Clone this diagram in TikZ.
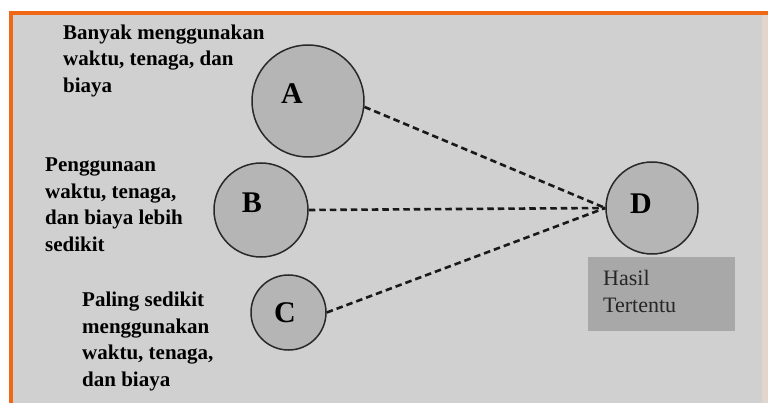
\documentclass[tikz,border=0pt]{standalone}
\usepackage{fontspec}
\setmainfont{Liberation Serif}
\newfontfamily\notefont{Liberation Serif}
\definecolor{frameorange}{RGB}{240,104,22}
\definecolor{panelgray}{RGB}{208,208,208}
\definecolor{ballgray}{RGB}{181,181,181}
\definecolor{boxgray}{RGB}{168,168,168}
\definecolor{edgebeige}{RGB}{226,214,204}
\definecolor{inkdark}{RGB}{40,40,40}
\tikzset{
  ball/.style={circle, draw=inkdark, line width=1.5pt, fill=ballgray, inner sep=0pt},
  balltext/.style={inner sep=0pt, font=\notefont\fontsize{30}{30}\selectfont\bfseries, text=black},
  note/.style={anchor=north west, inner sep=0pt, align=left, text=black,
    font=\notefont\fontsize{21}{26.5}\selectfont\bfseries},
  resultnote/.style={anchor=north west, inner sep=0pt, align=left, text=black!85,
    font=\notefont\fontsize{22}{27}\selectfont},
  link/.style={draw=black!90, line width=2.6pt, dash pattern=on 6.5pt off 4pt},
}
\begin{document}
\begin{tikzpicture}[x=1pt, y=-1pt]
  \useasboundingbox (0,0) rectangle (768,403);
  % frame and panel
  \fill[white] (0,0) rectangle (768,403);
  \fill[panelgray] (13,15) rectangle (762,403);
  \fill[edgebeige] (762,15) rectangle (768,403);
  \fill[frameorange] (9,11) rectangle (768,15);
  \fill[frameorange] (9,11) rectangle (13,403);

  % circles
  \node[ball, minimum size=112pt] (A) at (308,101) {};
  \node[ball, minimum size=94pt]  (B) at (261,210) {};
  \node[ball, minimum size=75pt]  (C) at (288.5,312.5) {};
  \node[ball, minimum size=92pt]  (D) at (652,208) {};

  \node[balltext] (Alab) at (292,94) {A};
  \node[balltext] (Blab) at (252,203) {B};
  \node[balltext] (Clab) at (285,313) {C};
  \node[balltext] (Dlab) at (641,204) {D};

  % result box
  \node[fill=boxgray, minimum width=147pt, minimum height=74pt, inner sep=0pt,
        anchor=north west] (Res) at (588,257) {};
  \node[resultnote] (Restext) at (603,270) {Hasil\\Tertentu};

  % dashed links
  \coordinate (Din) at (D.west);
  \draw[link] (A.-6) -- (Din);
  \draw[link] (B.east) -- (Din);
  \draw[link] (C.east) -- (Din);

  % descriptions
  \node[note] (Anote) at (63,24.5) {Banyak menggunakan\\waktu, tenaga, dan\\biaya};
  \node[note] (Bnote) at (45,158) {Penggunaan\\waktu, tenaga,\\dan biaya lebih\\sedikit};
  \node[note] (Cnote) at (82,292) {Paling sedikit\\menggunakan\\waktu, tenaga,\\dan biaya};
\end{tikzpicture}
\end{document}
